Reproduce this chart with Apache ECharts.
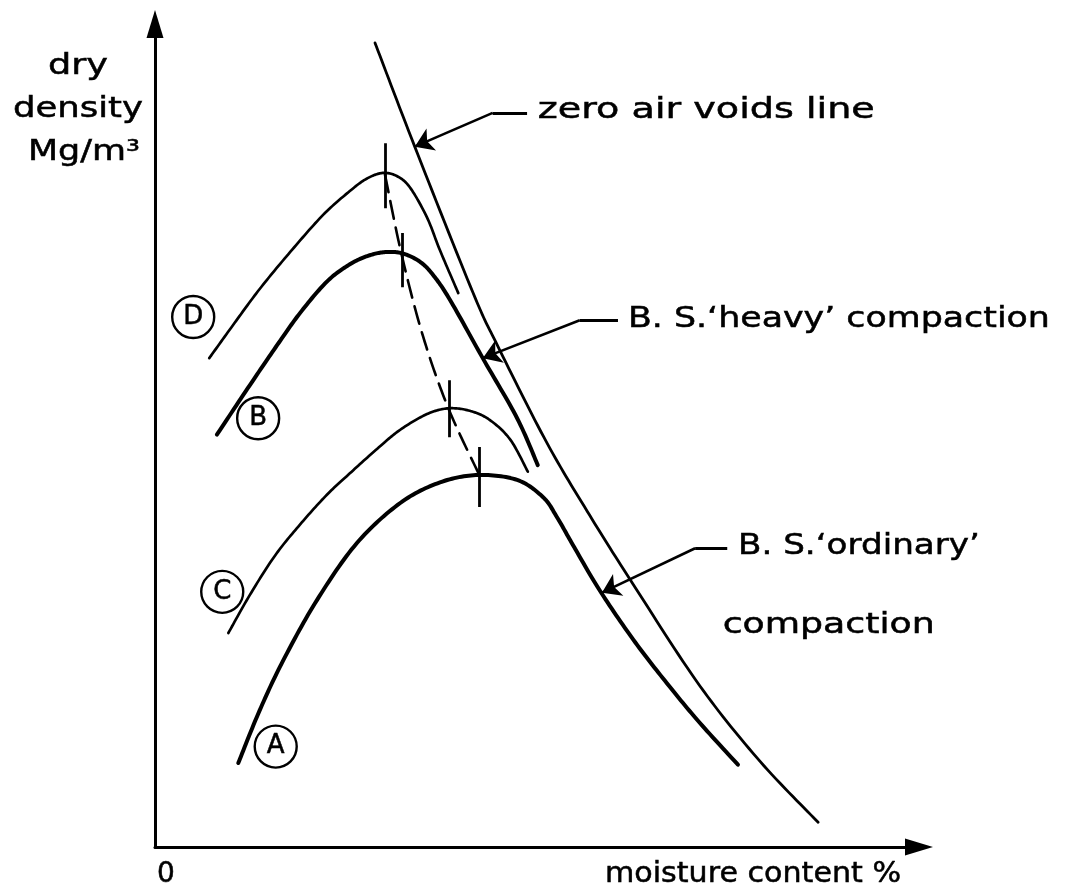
<!DOCTYPE html>
<html><head><meta charset="utf-8">
<script src="https://cdn.jsdelivr.net/npm/echarts@6/dist/echarts.min.js"></script>
<style>html,body{margin:0;padding:0;background:#fff}#c{width:1069px;height:892px}</style>
</head><body><div id="c"></div>
<script>
// ---------- data (relative units: x = moisture content, y = dry density, 0-100) ----------
const zeroAirVoids = [[28.8,97.7],[34.0,85.1],[41.6,67.4],[44.9,60.8],[51.3,49.1],[56.9,40.3],[62.6,31.9],[71.3,19.6],[79.2,10.4],[86.8,3.0]];
const curveD = [[7.1,59.4],[10.2,63.4],[13.7,67.8],[17.7,72.3],[22.0,76.8],[25.5,79.7],[27.7,81.2],[29.8,81.9],[31.7,81.5],[33.4,80.1],[35.6,76.5],[37.3,72.5],[39.7,67.3]];
const curveB = [[8.1,50.1],[12.4,56.1],[16.0,61.0],[19.0,64.9],[22.5,68.7],[25.5,70.8],[28.1,71.9],[30.4,72.3],[32.5,72.1],[34.7,71.1],[36.4,69.5],[38.6,66.5],[42.9,59.4],[47.4,52.1],[50.1,46.4]];
const curveC = [[9.6,26.0],[12.4,30.6],[15.7,35.4],[19.0,39.2],[22.5,42.8],[25.5,45.4],[29.1,48.4],[32.1,50.7],[35.6,52.6],[38.4,53.3],[41.2,53.0],[43.8,51.9],[46.5,49.5],[48.8,45.6]];
const curveA = [[10.9,10.2],[13.7,16.6],[16.8,22.7],[21.2,30.0],[26.4,36.9],[32.1,41.8],[37.3,44.3],[42.3,45.2],[47.4,44.6],[50.8,42.5],[52.6,40.1],[54.7,36.7],[58.2,31.2],[62.6,25.2],[67.0,19.9],[71.3,15.1],[76.3,10.0]];
const optimumLine = [[30.1,81.7],[32.3,71.9],[35.1,62.0],[38.4,53.3],[42.4,45.3]];
const peakX = [30.1, 32.3, 38.5, 42.4];
const peakTickLow = [77.6, 68.0, 49.8, 41.3];
const peakTickHigh = [85.5, 74.6, 56.7, 48.6];
const curveNames = ['D', 'B', 'C', 'A'];
const xAxisTitle = 'moisture content %';
const yAxisTitle = ['dry', 'density', 'Mg/m³'];
const originLabel = '0';
const annotationTexts = ['zero air voids line', 'B. S.‘heavy’ compaction', 'B. S.‘ordinary’', 'compaction'];

// ---------- layout (not data) ----------
const curveLabelPos = [[5.0,64.4],[13.5,52.1],[8.8,31.0],[15.8,12.2]];
// leader lines: [tip, elbow, end]
const leaders = [
  [[34.0,85.1],[44.2,89.2],[48.7,89.2]],
  [[42.9,59.4],[55.6,64.0],[60.6,64.0]],
  [[58.5,30.9],[70.7,36.3],[74.9,36.3]]
];
const annotationAnchor = [[50.1,89.2],[61.9,63.8],[76.3,36.3],[74.3,26.7]];
const annotationWidth = [337, 422, 242, 212];
const FONT = 'DejaVu Sans';
const FS = 28;

const chart = echarts.init(document.getElementById('c'), null, {renderer: 'canvas'});

// smooth curve through the data points (Catmull-Rom drawn as sampled cubic Béziers in pixel space)
function spline(name, pts, width, dash) {
  return {
    type: 'custom', name, data: pts, silent: true, z: 3, clip: false,
    encode: {x: 0, y: 1},
    renderItem(params, api) {
      if (params.dataIndex !== 0) return null;
      const P = pts.map(p => api.coord(p));
      const out = [P[0].slice()];
      const t = 1 / 6, steps = 16;
      for (let i = 0; i < P.length - 1; i++) {
        const p0 = P[Math.max(0, i - 1)], p1 = P[i], p2 = P[i + 1], p3 = P[Math.min(P.length - 1, i + 2)];
        const c1 = [p1[0] + (p2[0] - p0[0]) * t, p1[1] + (p2[1] - p0[1]) * t];
        const c2 = [p2[0] - (p3[0] - p1[0]) * t, p2[1] - (p3[1] - p1[1]) * t];
        for (let k = 1; k <= steps; k++) {
          const u = k / steps, v = 1 - u;
          const a = v * v * v, b = 3 * v * v * u, c = 3 * v * u * u, d = u * u * u;
          out.push([a * p1[0] + b * c1[0] + c * c2[0] + d * p2[0], a * p1[1] + b * c1[1] + c * c2[1] + d * p2[1]]);
        }
      }
      return {type: 'polyline', shape: {points: out},
        style: {fill: null, stroke: '#000', lineWidth: width, lineDash: dash || null, lineCap: 'round', lineJoin: 'round'}};
    }
  };
}

const tickSegs = peakX.map((x, i) => ({coords: [[x, peakTickLow[i]], [x, peakTickHigh[i]]]}));
const leaderFlat = leaders.map(l => ({coords: [l[1], l[2]]}));
const leaderArrow = leaders.map(l => ({coords: [l[1], l[0]]}));

const axisCommon = {
  type: 'value', min: 0, max: 100,
  axisLine: {show: true, symbol: ['none', 'triangle'], symbolSize: [17, 28], lineStyle: {color: '#000', width: 3}},
  axisTick: {show: false}, axisLabel: {show: false}, splitLine: {show: false}
};

chart.setOption({
  animation: false,
  backgroundColor: '#fff',
  grid: {left: 155, right: 150, top: 24, bottom: 45, containLabel: false},
  xAxis: Object.assign({}, axisCommon),
  yAxis: Object.assign({}, axisCommon),
  series: [
    spline('zero air voids', zeroAirVoids, 2.8),
    spline('D', curveD, 2.7),
    spline('B', curveB, 4.0),
    spline('C', curveC, 2.7),
    spline('A', curveA, 4.0),
    spline('optimum', optimumLine, 2.6, [18, 9]),
    {type: 'lines', coordinateSystem: 'cartesian2d', data: tickSegs.concat(leaderFlat), silent: true,
      lineStyle: {color: '#000', width: 2.8, opacity: 1}, symbol: 'none'},
    {type: 'lines', coordinateSystem: 'cartesian2d', data: leaderArrow, silent: true,
      lineStyle: {color: '#000', width: 2.6, opacity: 1}, symbol: ['none', 'arrow'], symbolSize: 18},
    {type: 'scatter', data: curveLabelPos.map((p, i) => [p[0], p[1], curveNames[i]]), symbol: 'circle', symbolSize: 42,
      silent: true, z: 5,
      itemStyle: {color: '#fff', borderColor: '#000', borderWidth: 2.4, opacity: 1},
      label: {show: true, position: 'inside', formatter: p => p.value[2], color: '#000', fontSize: 26, fontFamily: FONT,
        textBorderColor: '#000', textBorderWidth: 0.5}}
  ]
});

// text elements, stretched horizontally to match the wide lettering of the original
const mctx = document.createElement('canvas').getContext('2d');
function widthOf(text, size) { mctx.font = size + 'px "' + FONT + '"'; return mctx.measureText(text).width; }
function txt(text, x, y, align, target, size) {
  size = size || FS;
  const s = target ? target / widthOf(text, size) : 1;
  return {type: 'text', x, y, scaleX: s, silent: true, z: 10,
    style: {text, fontSize: size, fontFamily: FONT, fill: '#000', stroke: '#000', lineWidth: 0.5,
      align, verticalAlign: 'middle'}};
}
const g = [];
annotationTexts.forEach((t, i) => {
  const p = chart.convertToPixel({gridIndex: 0}, annotationAnchor[i]);
  g.push(txt(t, p[0], p[1] - 2, 'left', annotationWidth[i]));
});
const o = chart.convertToPixel({gridIndex: 0}, [0, 0]);
g.push(txt(yAxisTitle[0], o[0] - 77, 67, 'center', 60));
g.push(txt(yAxisTitle[1], o[0] - 77, 110, 'center', 130));
g.push(txt(yAxisTitle[2], o[0] - 71, 153, 'center', 112));
g.push(txt(originLabel, o[0] + 11, o[1] + 28, 'center', 0));
g.push(txt(xAxisTitle, o[0] + 598, o[1] + 28, 'center', 296));
chart.setOption({graphic: g});
</script></body></html>
